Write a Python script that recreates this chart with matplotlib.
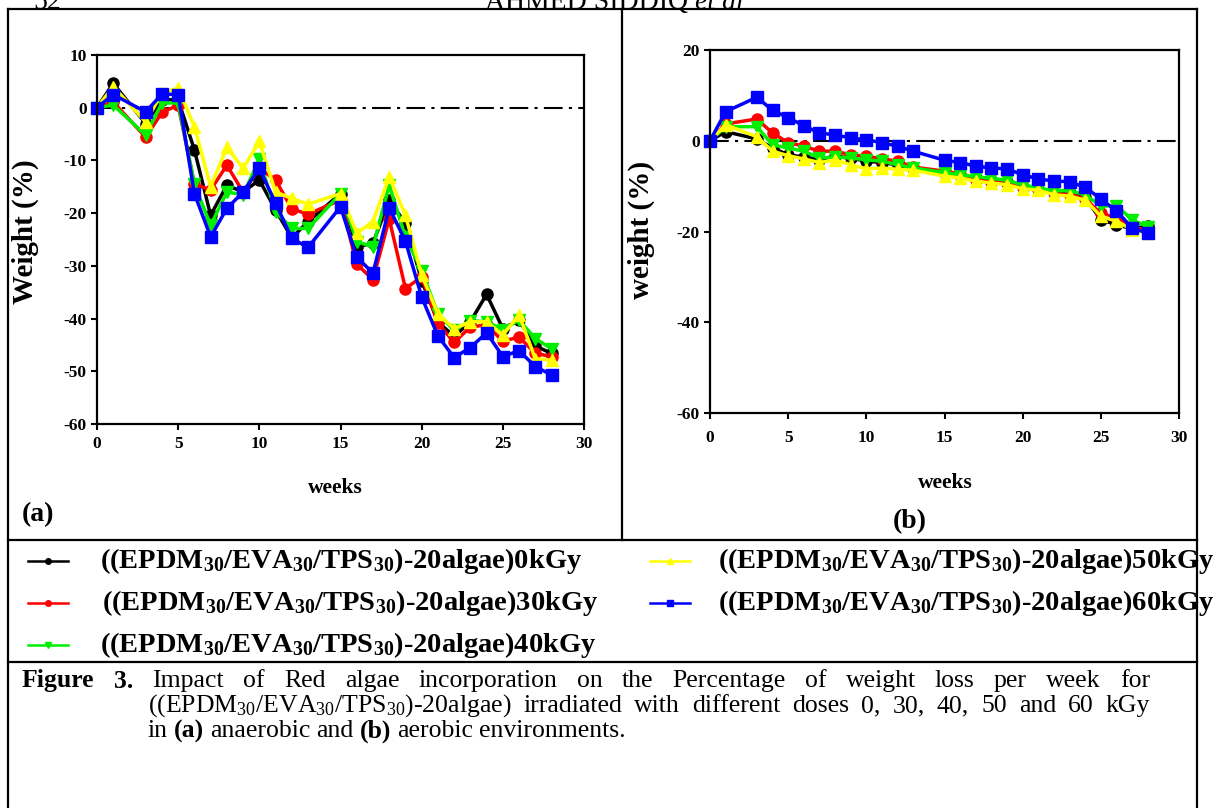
import matplotlib
matplotlib.use('Agg')
import matplotlib.pyplot as plt

plt.rcParams['font.family'] = 'Liberation Serif'
plt.rcParams['mathtext.fontset'] = 'custom'
plt.rcParams['mathtext.rm'] = 'Liberation Serif'
plt.rcParams['mathtext.bf'] = 'Liberation Serif:bold'
plt.rcParams['mathtext.it'] = 'Liberation Serif:italic'
plt.rcParams['axes.unicode_minus'] = False

weeks = [0, 1, 3, 4, 5, 6, 7, 8, 9, 10, 11, 12, 13, 15, 16, 17, 18, 19, 20, 21, 22, 23, 24, 25, 26, 27, 28]

# (a) anaerobic
a_0 = [0, 4.6, -3.0, 1.5, 1.5, -8.0, -20.4, -14.7, -16.0, -13.7, -19.4, -24.7, -21.6, -16.3, -26.4, -25.7,
       -17.6, -21.9, -32.8, -40.6, -43.4, -40.6, -35.4, -41.9, -40.3, -45.2, -46.6]
a_30 = [0, 1.1, -5.6, -0.9, 0.5, -14.5, -15.6, -10.9, -16.0, -11.5, -13.7, -19.2, -20.2, -17.5, -29.7, -32.6,
        -21.1, -34.3, -32.1, -40.9, -44.5, -41.6, -41.2, -44.3, -43.5, -46.6, -47.2]
a_40 = [0, 0.5, -5.2, 0.9, 0.9, -14.5, -22.3, -16.0, -16.5, -9.8, -19.7, -22.9, -22.9, -16.3, -25.4, -26.4,
        -14.7, -24.5, -30.9, -39.1, -42.2, -40.4, -40.6, -42.1, -40.3, -43.8, -45.7]
a_50 = [0, 4.0, -2.7, 2.8, 3.7, -3.6, -15.0, -7.5, -11.5, -6.4, -16.0, -17.2, -18.3, -16.3, -23.8, -21.6,
        -13.1, -20.4, -31.7, -39.1, -41.9, -40.6, -40.6, -43.1, -39.3, -47.6, -47.9]
a_60 = [0, 2.5, -0.8, 2.6, 2.5, -16.3, -24.5, -19.1, -16.0, -11.5, -18.1, -24.8, -26.5, -18.8, -28.3, -31.4,
        -19.0, -25.3, -35.9, -43.3, -47.4, -45.5, -42.7, -47.2, -46.1, -49.1, -50.7]

# (b) aerobic
b_0 = [0, 2.0, 0.4, -1.6, -3.1, -3.6, -4.2, -3.4, -3.8, -4.5, -4.8, -5.3, -6.0, -7.0, -7.5, -8.2,
       -8.6, -9.2, -10.1, -10.6, -11.4, -11.6, -12.5, -17.4, -18.5, -19.4, -18.8]
b_30 = [0, 3.7, 4.8, 1.7, -0.4, -1.2, -2.3, -2.3, -3.1, -3.4, -4.0, -4.5, -5.8, -6.7, -7.3, -8.6,
        -9.0, -9.4, -10.3, -10.7, -11.6, -11.9, -12.8, -16.0, -17.0, -19.2, -19.6]
b_40 = [0, 3.1, 3.1, -0.9, -1.6, -2.3, -3.8, -3.6, -3.8, -4.2, -4.5, -5.3, -6.0, -7.0, -7.5, -7.9,
        -8.3, -8.7, -9.7, -10.4, -11.0, -11.0, -11.9, -14.4, -14.3, -17.4, -19.0]
b_50 = [0, 3.5, 0.9, -2.3, -3.3, -4.0, -4.8, -4.2, -5.3, -6.2, -6.0, -6.3, -6.5, -7.8, -8.2, -8.9,
        -9.3, -9.7, -10.6, -10.9, -11.9, -12.2, -13.1, -16.6, -17.7, -19.6, -20.3]
b_60 = [0, 6.4, 9.6, 6.7, 5.1, 3.3, 1.7, 1.3, 0.6, 0.2, -0.4, -1.2, -2.3, -4.3, -4.8, -5.6,
        -6.0, -6.2, -7.5, -8.4, -8.9, -9.0, -10.3, -12.8, -15.5, -19.2, -20.4]

doses = ['0kGy', '30kGy', '40kGy', '50kGy', '60kGy']
colors = ['black', '#ff0000', '#00ee00', '#ffff00', '#0000ff']
markers = ['o', 'o', 'v', '^', 's']

sample = r'((EPDM$_{\mathbf{30}}$/EVA$_{\mathbf{30}}$/TPS$_{\mathbf{30}}$)-20algae)'

fig = plt.figure(figsize=(12.27, 8.08), dpi=100)
renderer = fig.canvas.get_renderer()

# page layer in pixel coordinates
page = fig.add_axes([0, 0, 1, 1])
page.set_xlim(0, 1227)
page.set_ylim(808, 0)
page.axis('off')

lw_box = 1.6
page.plot([8, 1197], [9, 9], color='black', lw=lw_box)
page.plot([8, 8], [9, 808], color='black', lw=lw_box)
page.plot([1197, 1197], [9, 808], color='black', lw=lw_box)
page.plot([622, 622], [9, 540], color='black', lw=lw_box)
page.plot([8, 1197], [540, 540], color='black', lw=lw_box)
page.plot([8, 1197], [662, 662], color='black', lw=lw_box)

# running head (cut at top, as on the page)
page.text(33, 9, '52', fontsize=20, va='baseline', ha='left')
head = page.text(485, 9, 'AHMED SIDDIQ ', fontsize=20, va='baseline', ha='left')
hw = head.get_window_extent(renderer).width
page.text(485 + hw, 9, 'et al', fontsize=20, va='baseline', ha='left', style='italic')


def draw_panel(rect, series, ylim, yticks, ylabel, ylab_xy, xlab_xy, xpad):
    ax = fig.add_axes(rect)
    for vals, c, m in zip(series, colors, markers):
        ax.plot(weeks, vals, color=c, marker=m, markersize=8, lw=2.5,
                markeredgecolor=c, clip_on=False)
    ax.axhline(0, color='black', lw=1.5, ls=(0, (9, 3, 1.5, 3)), zorder=0)
    ax.set_xlim(0, 30)
    ax.set_ylim(*ylim)
    ax.set_xticks([0, 5, 10, 15, 20, 25, 30])
    ax.set_yticks(yticks)
    ax.tick_params(direction='out', length=4, width=1.5, labelsize=12.5,
                   top=False, right=False)
    ax.tick_params(axis='x', pad=xpad)
    for lab in ax.get_xticklabels() + ax.get_yticklabels():
        lab.set_fontweight('bold')
    for sp in ax.spines.values():
        sp.set_linewidth(1.6)
    ax.set_ylabel(ylabel, fontsize=21, fontweight='bold')
    ax.yaxis.set_label_coords(*ylab_xy)
    ax.set_xlabel('weeks', fontsize=15.5, fontweight='bold')
    ax.xaxis.set_label_coords(*xlab_xy)
    return ax


ax_a = draw_panel([97 / 1227, 1 - 424 / 808, 487 / 1227, 369 / 808],
                  [a_0, a_30, a_40, a_50, a_60], (-60, 10), range(-60, 11, 10),
                  'Weight (%)', (-0.12, 0.52), (0.489, -0.146), 5)
ax_b = draw_panel([710 / 1227, 1 - 413 / 808, 469 / 1227, 363 / 808],
                  [b_0, b_30, b_40, b_50, b_60], (-60, 20), [-60, -40, -20, 0, 20],
                  'weight (%)', (-0.118, 0.505), (0.501, -0.165), 8)

page.text(22, 515, '(a)', fontsize=20, fontweight='bold', va='center', ha='left')
page.text(910, 522, '(b)', fontsize=20, fontweight='bold', va='center', ha='center')

# legend
leg_pos = [(28, 100, 561), (28, 102, 603), (28, 100, 645), (650, 718, 561), (650, 718, 603)]
for (lx, tx, ly), d, c, m in zip(leg_pos, doses, colors, markers):
    page.plot([lx, lx + 40], [ly, ly], color=c, lw=1.8)
    page.plot([lx + 20], [ly], color=c, marker=m, markersize=4)
    page.text(tx, ly, sample + d, fontsize=20.5, fontweight='bold', va='center', ha='left')


# caption
def put_words(words, x0, x1, y, justify=True, size=18.5):
    arts = [page.text(0, y, t, fontsize=size, fontweight=w, va='center', ha='left')
            for t, w in words]
    widths = [a.get_window_extent(renderer).width for a in arts]
    if justify:
        gap = (x1 - x0 - sum(widths)) / (len(arts) - 1)
    else:
        gap = 6
    x = x0
    for a, wd in zip(arts, widths):
        a.set_x(x)
        x += wd + gap


line1 = [('Figure', 'bold'), ('3.', 'bold')] + [(w, 'normal') for w in
         'Impact of Red algae incorporation on the Percentage of weight loss per week for'.split()]
line2 = [(r'((EPDM$_{30}$/EVA$_{30}$/TPS$_{30}$)-20algae)', 'normal')] + [(w, 'normal') for w in
         'irradiated with different doses 0, 30, 40, 50 and 60 kGy'.split()]
line3 = [('in', 'normal'), ('(a)', 'bold'), ('anaerobic', 'normal'), ('and', 'normal'),
         ('(b)', 'bold'), ('aerobic', 'normal'), ('environments.', 'normal')]
put_words(line1, 22, 1150, 681)
put_words(line2, 148, 1150, 706)
put_words(line3, 148, 1150, 731, justify=False)

fig.savefig('out.png', dpi=100)
